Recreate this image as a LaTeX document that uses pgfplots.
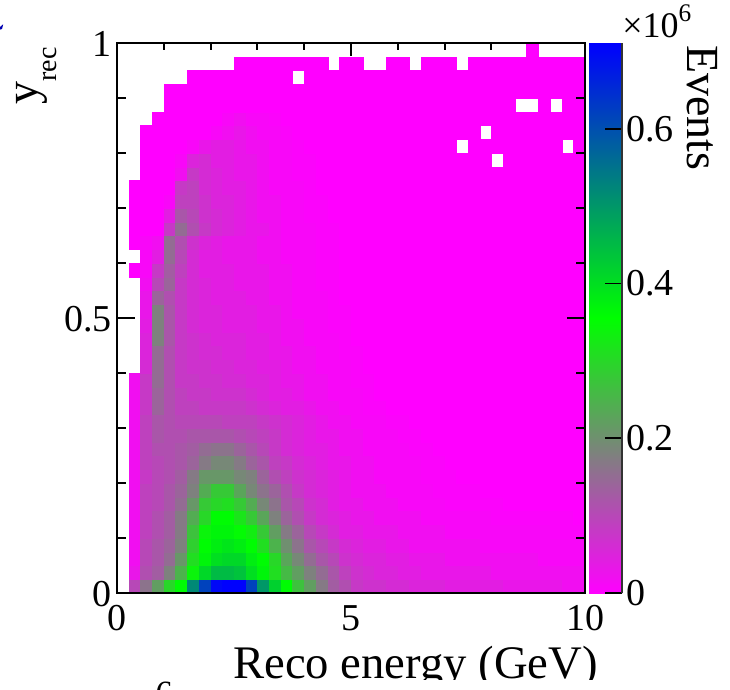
\documentclass[border=0pt]{standalone}
\usepackage{pgfplots}
\usepackage{pgfplotstable}
\usepackage{fontspec}
\setmainfont{Liberation Serif}
\pgfplotsset{compat=1.18,/pgf/number format/assume math mode=true}
\pgfdeclareplotmark{cell}{\pgfpathrectangle{\pgfpoint{-4.3875pt}{-5.15625pt}}{\pgfpoint{8.775pt}{10.3125pt}}\pgfusepathqfillstroke}
% events per cell in units of 0.01 x 10^6; 40 cells per row (four groups of ten), from y_rec=0 upward
\pgfplotstableread[row sep=\\]{
z\\
nan\\10\\16\\22\\30\\36\\52\\62\\70\\71\\
71\\62\\50\\42\\36\\27\\22\\17\\13\\11\\
8\\7\\7\\6\\6\\5\\5\\5\\4\\4\\
4\\4\\4\\3\\3\\3\\3\\3\\2\\2\\
nan\\3\\11\\13\\18\\25\\34\\41\\45\\45\\
44\\40\\37\\31\\26\\22\\18\\15\\12\\9\\
7\\6\\5\\5\\4\\4\\3\\3\\3\\3\\
3\\3\\2\\2\\2\\2\\2\\2\\2\\2\\
nan\\2\\10\\12\\15\\21\\31\\37\\40\\41\\
41\\38\\36\\30\\23\\19\\15\\12\\10\\7\\
6\\5\\5\\4\\4\\3\\3\\3\\2\\2\\
2\\2\\2\\2\\2\\2\\1\\1\\1\\1\\
nan\\2\\10\\12\\14\\18\\29\\36\\38\\39\\
38\\36\\31\\25\\20\\16\\12\\10\\8\\6\\
5\\4\\4\\3\\3\\2\\2\\2\\2\\2\\
2\\1\\1\\1\\1\\1\\1\\1\\1\\1\\
nan\\2\\9\\11\\13\\17\\27\\34\\37\\37\\
35\\33\\28\\22\\17\\14\\10\\8\\6\\4\\
4\\3\\3\\3\\2\\2\\2\\2\\1\\1\\
1\\1\\1\\1\\1\\1\\1\\0.5\\0.5\\0.5\\
nan\\2\\9\\11\\13\\17\\24\\30\\36\\36\\
32\\28\\23\\18\\14\\11\\8\\6\\5\\4\\
3\\3\\2\\2\\2\\2\\1\\1\\1\\1\\
1\\1\\0.5\\0.5\\0.5\\0.5\\0.5\\0.5\\0.5\\0\\
nan\\2\\9\\10\\12\\15\\21\\28\\30\\31\\
28\\24\\19\\16\\12\\10\\7\\6\\4\\3\\
3\\2\\2\\2\\1\\1\\1\\1\\0.5\\0.5\\
0.5\\0.5\\0.5\\0\\0\\0\\0\\0\\0\\0\\
nan\\2\\9\\10\\12\\14\\18\\24\\28\\28\\
23\\19\\16\\14\\11\\8\\6\\5\\4\\3\\
2\\2\\2\\1\\1\\1\\1\\0.5\\0.5\\0.5\\
0.5\\0\\0\\0\\0\\0\\0\\0\\0\\0\\
nan\\2\\8\\10\\11\\13\\17\\21\\21\\21\\
19\\18\\14\\11\\9\\7\\6\\5\\4\\3\\
2\\2\\1\\1\\1\\1\\0.5\\0.5\\0.5\\0\\
0\\0\\0\\0\\0\\0\\0\\0\\0\\0\\
nan\\2\\9\\10\\11\\12\\14\\17\\19\\19\\
17\\14\\12\\9\\8\\6\\5\\4\\3\\3\\
2\\2\\1\\1\\1\\1\\0.5\\0.5\\0\\0\\
0\\0\\0\\0\\0\\0\\0\\0\\0\\0\\
nan\\2\\9\\11\\11\\12\\13\\15\\16\\16\\
14\\12\\10\\8\\6\\5\\4\\4\\3\\2\\
2\\1\\1\\1\\1\\0.5\\0.5\\0\\0\\0\\
0\\0\\0\\0\\0\\0\\0\\0\\0\\0\\
nan\\2\\9\\12\\11\\11\\12\\12\\12\\12\\
11\\10\\9\\8\\6\\5\\4\\3\\3\\2\\
2\\1\\1\\1\\0.5\\0.5\\0\\0\\0\\0\\
0\\0\\0\\0\\0\\0\\0\\0\\0\\0\\
nan\\2\\9\\12\\11\\10\\10\\10\\10\\9\\
9\\9\\8\\7\\6\\5\\4\\3\\2\\2\\
1\\1\\1\\0.5\\0.5\\0\\0\\0\\0\\0\\
0\\0\\0\\0\\0\\0\\0\\0\\0\\0\\
nan\\2\\8\\14\\11\\9\\9\\8\\8\\8\\
8\\7\\6\\5\\4\\4\\3\\2\\2\\1\\
1\\0.5\\0.5\\0\\0\\0\\0\\0\\0\\0\\
0\\0\\0\\0\\0\\0\\0\\0\\0\\0\\
nan\\2\\8\\14\\11\\9\\8\\8\\7\\7\\
7\\6\\5\\4\\4\\3\\2\\2\\1\\1\\
1\\0.5\\0\\0\\0\\0\\0\\0\\0\\0\\
0\\0\\0\\0\\0\\0\\0\\0\\0\\0\\
nan\\2\\8\\15\\11\\8\\8\\7\\7\\6\\
6\\5\\5\\4\\3\\3\\2\\2\\1\\1\\
0.5\\0.5\\0\\0\\0\\0\\0\\0\\0\\0\\
0\\0\\0\\0\\0\\0\\0\\0\\0\\0\\
nan\\nan\\6\\15\\11\\8\\7\\7\\6\\6\\
5\\5\\4\\4\\3\\2\\2\\1\\1\\1\\
0.5\\0\\0\\0\\0\\0\\0\\0\\0\\0\\
0\\0\\0\\0\\0\\0\\0\\0\\0\\0\\
nan\\nan\\5\\15\\11\\8\\7\\6\\6\\5\\
5\\4\\4\\3\\3\\2\\2\\1\\1\\0.5\\
0.5\\0\\0\\0\\0\\0\\0\\0\\0\\0\\
0\\0\\0\\0\\0\\0\\0\\0\\0\\0\\
nan\\nan\\5\\18\\12\\8\\7\\6\\5\\5\\
5\\4\\4\\3\\2\\2\\1\\1\\1\\0.5\\
0\\0\\0\\0\\0\\0\\0\\0\\0\\0\\
0\\0\\0\\0\\0\\0\\0\\0\\0\\0\\
nan\\nan\\4\\18\\12\\8\\6\\5\\5\\4\\
4\\4\\3\\3\\2\\2\\1\\1\\0.5\\0.5\\
0\\0\\0\\0\\0\\0\\0\\0\\0\\0\\
0\\0\\0\\0\\0\\0\\0\\0\\0\\0\\
nan\\nan\\3\\18\\12\\8\\6\\5\\5\\4\\
4\\4\\3\\3\\2\\1\\1\\1\\0.5\\0.5\\
0\\0\\0\\0\\0\\0\\0\\0\\0\\0\\
0\\0\\0\\0\\0\\0\\0\\0\\0\\0\\
nan\\nan\\3\\14\\11\\8\\6\\5\\4\\4\\
4\\3\\3\\2\\2\\1\\1\\1\\0.5\\0\\
0\\0\\0\\0\\0\\0\\0\\0\\0\\0\\
0\\0\\0\\0\\0\\0\\0\\0\\0\\0\\
nan\\nan\\2\\10\\14\\8\\6\\5\\4\\4\\
3\\3\\3\\2\\2\\1\\1\\0.5\\0.5\\0\\
0\\0\\0\\0\\0\\0\\0\\0\\0\\0\\
0\\0\\0\\0\\0\\0\\0\\0\\0\\0\\
nan\\0\\1\\8\\13\\9\\6\\4\\4\\4\\
3\\3\\3\\2\\2\\1\\1\\0.5\\0.5\\0\\
0\\0\\0\\0\\0\\0\\0\\0\\0\\0\\
0\\0\\0\\0\\0\\0\\0\\0\\0\\0\\
nan\\nan\\1\\4\\15\\10\\6\\4\\4\\3\\
3\\3\\2\\2\\1\\1\\1\\0.5\\0.5\\0\\
0\\0\\0\\0\\0\\0\\0\\0\\0\\0\\
0\\0\\0\\0\\0\\0\\0\\0\\0\\0\\
nan\\0\\1\\2\\15\\11\\7\\5\\4\\3\\
3\\3\\2\\2\\1\\1\\1\\0.5\\0.5\\0\\
0\\0\\0\\0\\0\\0\\0\\0\\0\\0\\
0\\0\\0\\0\\0\\0\\0\\0\\0\\0\\
nan\\0\\0\\0\\8\\15\\11\\8\\6\\5\\
4\\3\\3\\2\\1\\1\\1\\0.5\\0.5\\0\\
0\\0\\0\\0\\0\\0\\0\\0\\0\\0\\
0\\0\\0\\0\\0\\0\\0\\0\\0\\0\\
nan\\0\\0\\0\\4\\12\\10\\7\\6\\5\\
4\\3\\2\\2\\1\\1\\0.5\\0.5\\0\\0\\
0\\0\\0\\0\\0\\0\\0\\0\\0\\0\\
0\\0\\0\\0\\0\\0\\0\\0\\0\\0\\
nan\\0\\0\\0\\1\\9\\9\\7\\5\\5\\
4\\3\\2\\2\\1\\1\\0.5\\0.5\\0\\0\\
0\\0\\0\\0\\0\\0\\0\\0\\0\\0\\
0\\0\\0\\0\\0\\0\\0\\0\\0\\0\\
nan\\0\\0\\0\\0\\8\\9\\6\\5\\4\\
4\\3\\2\\1\\1\\1\\0.5\\0\\0\\0\\
0\\0\\0\\0\\0\\0\\0\\0\\0\\0\\
0\\0\\0\\0\\0\\0\\0\\0\\0\\0\\
nan\\nan\\0\\0\\0\\2\\8\\6\\5\\4\\
3\\3\\2\\1\\1\\0.5\\0.5\\0\\0\\0\\
0\\0\\0\\0\\0\\0\\0\\0\\0\\0\\
0\\0\\0\\0\\0\\0\\0\\0\\0\\0\\
nan\\nan\\0\\0\\0\\1\\5\\6\\4\\4\\
3\\3\\2\\1\\1\\0.5\\0.5\\0\\0\\0\\
0\\0\\0\\0\\0\\0\\0\\0\\0\\0\\
0\\0\\nan\\0\\0\\0\\0\\0\\0\\0\\
nan\\nan\\0\\0\\0\\0\\1\\3\\4\\4\\
3\\2\\2\\1\\1\\0.5\\0\\0\\0\\0\\
0\\0\\0\\0\\0\\0\\0\\0\\0\\nan\\
0\\0\\0\\0\\0\\0\\0\\0\\nan\\0\\
nan\\nan\\0\\0\\0\\0\\0\\0\\1\\2\\
3\\2\\1\\1\\0.5\\0\\0\\0\\0\\0\\
0\\0\\0\\0\\0\\0\\0\\0\\0\\0\\
0\\nan\\0\\0\\0\\0\\0\\0\\0\\0\\
nan\\nan\\nan\\0\\0\\0\\0\\0\\0\\1\\
2\\1\\1\\0.5\\0\\0\\0\\0\\0\\0\\
0\\0\\0\\0\\0\\0\\0\\0\\0\\0\\
0\\0\\0\\0\\0\\0\\0\\0\\0\\0\\
nan\\nan\\nan\\nan\\0\\0\\0\\0\\0\\0\\
0\\0\\0\\0\\0\\0\\0\\0\\0\\0\\
0\\0\\0\\0\\0\\0\\0\\0\\0\\0\\
0\\0\\0\\0\\nan\\nan\\0\\nan\\0\\0\\
nan\\nan\\nan\\nan\\0\\0\\0\\0\\0\\0\\
0\\0\\0\\0\\0\\0\\0\\0\\0\\0\\
0\\0\\0\\0\\0\\0\\0\\0\\0\\0\\
0\\0\\0\\0\\0\\0\\0\\0\\0\\0\\
nan\\nan\\nan\\nan\\nan\\nan\\0\\0\\0\\0\\
0\\0\\0\\0\\0\\nan\\0\\0\\0\\0\\
0\\0\\0\\0\\0\\0\\0\\0\\0\\0\\
0\\0\\0\\0\\0\\0\\0\\0\\0\\0\\
nan\\nan\\nan\\nan\\nan\\nan\\nan\\nan\\nan\\nan\\
0\\0\\0\\0\\0\\0\\0\\0\\nan\\0\\
0\\nan\\nan\\0\\0\\nan\\0\\0\\0\\nan\\
0\\0\\0\\0\\0\\0\\0\\0\\0\\0\\
nan\\nan\\nan\\nan\\nan\\nan\\nan\\nan\\nan\\nan\\
nan\\nan\\nan\\nan\\nan\\nan\\nan\\nan\\nan\\nan\\
nan\\nan\\nan\\nan\\nan\\nan\\nan\\nan\\nan\\nan\\
nan\\nan\\nan\\nan\\nan\\0\\nan\\nan\\nan\\nan\\
}\cells
\begin{document}
\begin{tikzpicture}
\path[use as bounding box] (0,0) rectangle (547.5pt,516.75pt);
\pgfplotsset{common/.style={
  at={(87.75pt,72pt)},anchor=south west,scale only axis,width=351pt,height=412.5pt,
  xmin=0,xmax=10,ymin=0,ymax=1,axis line style={black,line width=1.5pt},
  tick style={black,line width=1.5pt},tick align=inside,
  tick label style={font=\fontsize{28.5}{30}\selectfont,inner sep=0pt}}}
\begin{axis}[common,axis on top,
  xtick={0,5,10},minor xtick={1,2,3,4,6,7,8,9},ytick=\empty,
  major tick length=9.75pt,minor tick length=5.25pt,
  xticklabel style={yshift=-9pt},
  xlabel={Reco energy (GeV)},
  xlabel style={font=\fontsize{35}{36}\selectfont,at={(rel axis cs:1,0)},anchor=base east,xshift=9.75pt,yshift=-63.75pt,inner sep=0pt},
  colormap={mg}{rgb=(1,0,1); rgb=(0,1,0); rgb=(0,0,1)},
  point meta min=0,point meta max=0.711,
  colorbar right,
  colorbar/width=24.75pt,
  colorbar shift/.style={xshift=3pt},
  colorbar style={at={(parent axis.south east)},anchor=south west,
    height=412.5pt,
    axis x line=none,axis y line*=right,axis line style={-,black!80,line width=1.5pt},
    ytick={0,0.2,0.4,0.6},tick align=inside,major tick length=12.75pt,minor tick length=0pt,
    ytick style={black,line width=1.2pt},yticklabel pos=right,
    yticklabel style={font=\fontsize{28.5}{30}\selectfont,inner sep=0pt,xshift=3pt}},
]
\addplot[scatter,only marks,mark=cell,line width=0.15pt,
  scatter/use mapped color={draw=mapped color,fill=mapped color},
  point meta={\thisrow{z}*0.01}]
  table[x index=0,y index=0,x expr={0.125+0.25*mod(\coordindex,40)},
        y expr={\thisrow{z}*0+0.0125+0.025*floor(\coordindex/40)}] {\cells};
\end{axis}
\begin{axis}[common,xtick=\empty,
  ytick={0,0.5,1},minor ytick={0.1,0.2,0.3,0.4,0.6,0.7,0.8,0.9},
  major tick length=13.5pt,minor tick length=6.75pt,
  yticklabel style={xshift=-3.75pt,yshift=-1pt},
  ylabel={y\raisebox{-14pt}{\fontsize{21}{21}\selectfont rec}},
  ylabel style={font=\fontsize{34.5}{36}\selectfont,at={(rel axis cs:-0.1697,0.9927)},anchor=base east,inner sep=0pt},
]
\end{axis}
\node[anchor=base west,inner sep=0pt,font=\fontsize{27}{28}\selectfont] at (466.5pt,488.25pt) {×10\raisebox{12pt}{\fontsize{19}{19}\selectfont 6}};
\node[anchor=base west,inner sep=0pt,rotate=-90,font=\fontsize{34.5}{36}\selectfont] at (515.25pt,483pt) {Events};
\fill[white] (0,0) rectangle (547.5pt,6.75pt);
\begin{scope}
\clip (110pt,0) rectangle (135pt,5.5pt);
\node[anchor=north,inner sep=0pt,font=\fontsize{25.5}{27}\selectfont] at (123pt,5.5pt) {6};
\end{scope}
\fill[blue!70!black] (0,496.5pt) -- (2.4pt,498.5pt) -- (1.5pt,495pt) -- (0,494.5pt) -- cycle;
\end{tikzpicture}
\end{document}
